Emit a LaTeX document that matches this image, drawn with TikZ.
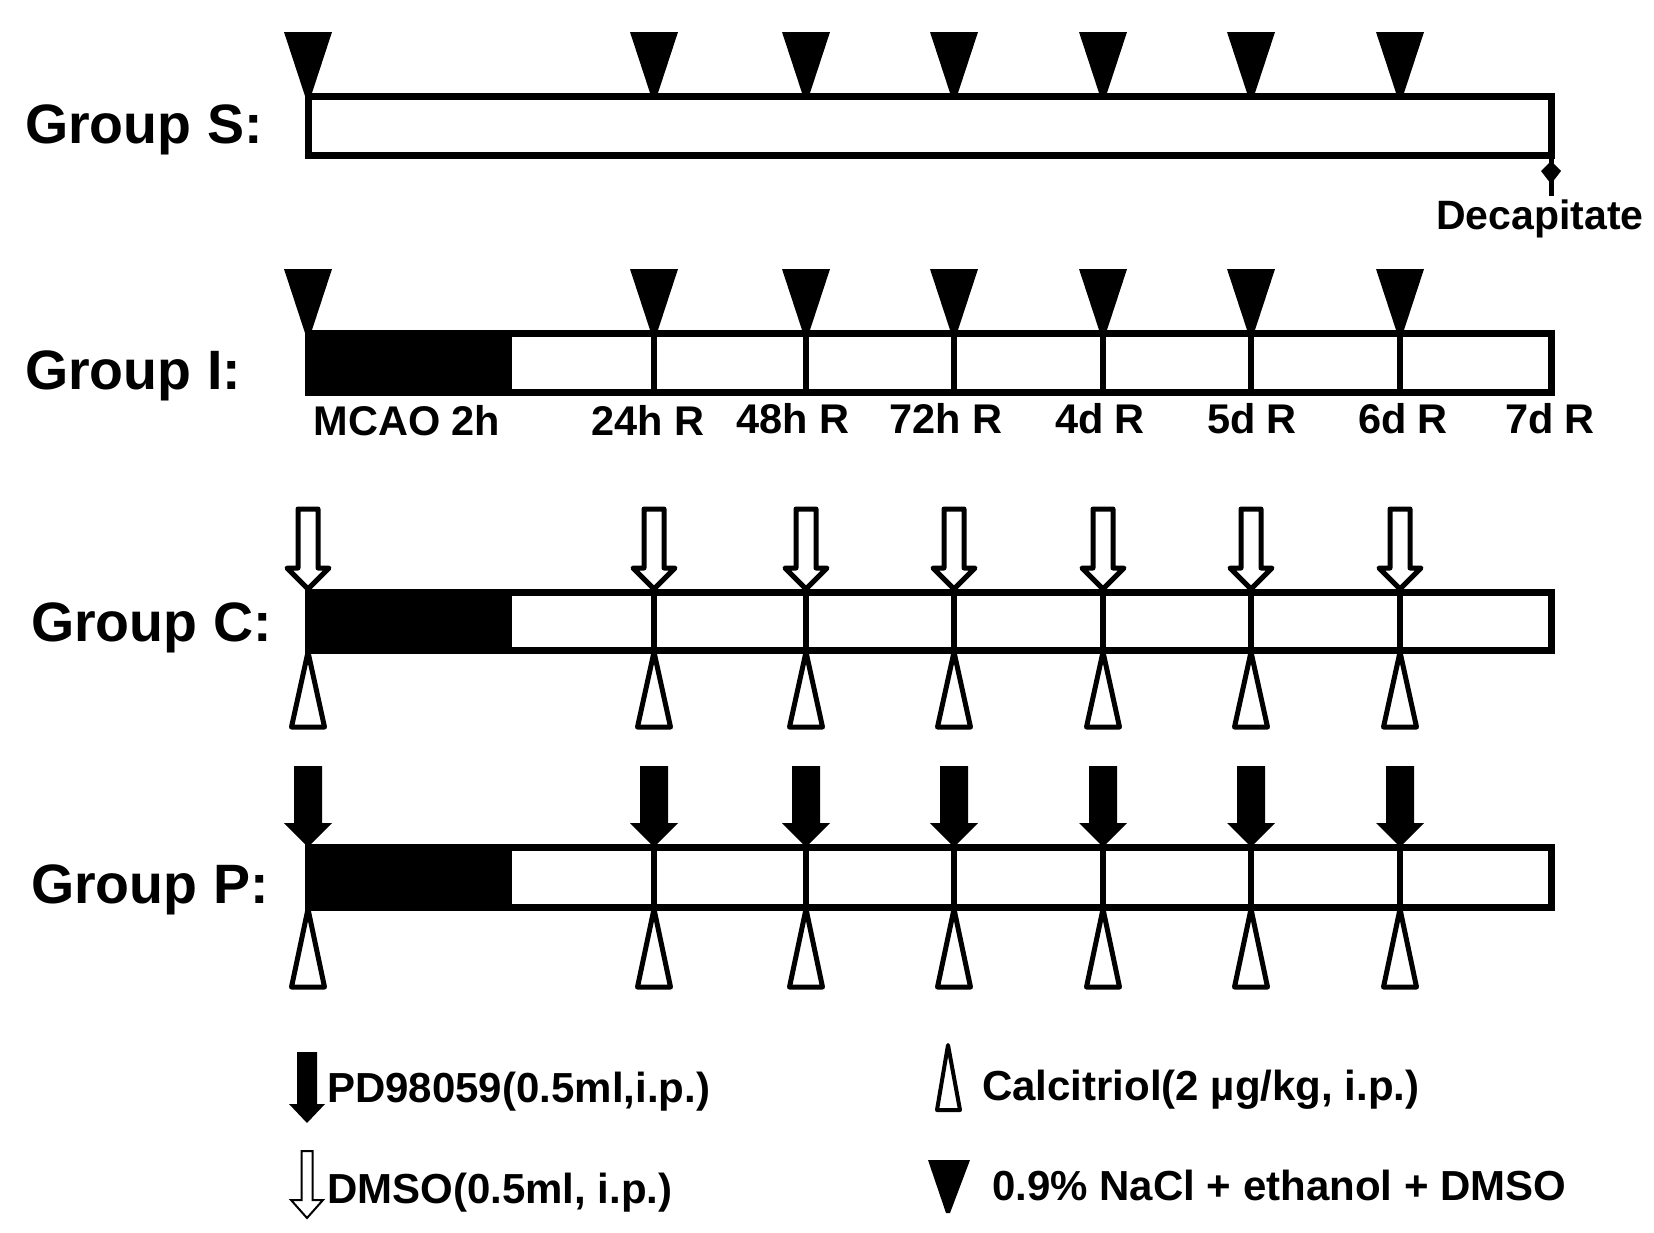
\documentclass[tikz,border=0pt]{standalone}
\usepackage{fontspec}
\setmainfont{Liberation Sans}
\begin{document}
\begin{tikzpicture}[x=1pt,y=-1pt,
  barline/.style={line width=7pt},
  tickline/.style={line width=6pt},
  grp/.style={font=\bfseries\fontsize{55.5}{60}\selectfont, inner sep=0pt, anchor=base west},
  tlbl/.style={font=\bfseries\fontsize{41.5}{44}\selectfont, inner sep=0pt, anchor=base},
  leg/.style={font=\bfseries\fontsize{42}{46}\selectfont, inner sep=0pt, anchor=base west},
  opentri/.style={line width=5pt, line join=round, fill=white},
  openarrow/.style={line width=5pt, line join=round, fill=white}]
\useasboundingbox (0,0) rectangle (1654,1232);

% ---------------- Group S ----------------
\node[grp] (gS) at (25,143) {Group S:};
\draw[barline] (308,96) rectangle (1551,155);
\foreach \x in {308,654,806,954,1103,1251,1400}
  \fill (\x-24,32) -- (\x+24,32) -- (\x+3,96) -- (\x-3,96) -- cycle;
\coordinate (sEnd) at (1551,155);
\node[tlbl, font=\bfseries\fontsize{41}{44}\selectfont] (dec) at (1540,229) {Decapitate};
\coordinate (decTop) at (1551,196);
\draw[line width=5pt] (sEnd) -- (decTop);
\fill (1551,161) -- (1561,171) -- (1551,184) -- (1541,171) -- cycle;

% ---------------- Group I ----------------
\node[grp] (gI) at (25,389) {Group I:};
\fill (308,333) rectangle (512,392);
\foreach \x in {654,806,954,1103,1251,1400}
  \draw[tickline] (\x,333) -- (\x,392);
\draw[barline] (308,333) rectangle (1551,392);
\foreach \x in {308,654,806,954,1103,1251,1400}
  \fill (\x-24,269) -- (\x+24,269) -- (\x+3,333) -- (\x-3,333) -- cycle;

\node[tlbl] (t0) at (407,435) {MCAO 2h};
\node[tlbl] (t1) at (648,435) {24h R};
\node[tlbl] (t2) at (793,433) {48h R};
\node[tlbl] (t3) at (946,433) {72h R};
\node[tlbl] (t4) at (1100,433) {4d R};
\node[tlbl] (t5) at (1252,433) {5d R};
\node[tlbl] (t6) at (1403,433) {6d R};
\node[tlbl] (t7) at (1550,433) {7d R};

% ---------------- Group C ----------------
\node[grp] (gC) at (31,641) {Group C:};
\fill (308,592) rectangle (512,650);
\foreach \x in {654,806,954,1103,1251,1400}
  \draw[tickline] (\x,592) -- (\x,650);
\draw[barline] (308,592) rectangle (1551,650);
\foreach \x in {308,654,806,954,1103,1251,1400}{
  \draw[openarrow] (\x-10,509) -- (\x+10,509) -- (\x+10,568) -- (\x+21,568)
     -- (\x,589) -- (\x-21,568) -- (\x-10,568) -- cycle;
  \draw[opentri] (\x,652) -- (\x+16.5,727) -- (\x-16.5,727) -- cycle;
}

% ---------------- Group P ----------------
\node[grp] (gP) at (31,903) {Group P:};
\fill (308,847) rectangle (512,907);
\foreach \x in {654,806,954,1103,1251,1400}
  \draw[tickline] (\x,847) -- (\x,907);
\draw[barline] (308,847) rectangle (1551,907);
\foreach \x in {308,654,806,954,1103,1251,1400}{
  \fill (\x-14,766) -- (\x+14,766) -- (\x+14,823) -- (\x+24,823)
     -- (\x,847) -- (\x-24,823) -- (\x-14,823) -- cycle;
  \draw[opentri] (\x,909) -- (\x+16.5,987) -- (\x-16.5,987) -- cycle;
}

% ---------------- Legend ----------------
\fill (297,1052) -- (317,1052) -- (317,1104) -- (325,1104) -- (307,1123)
   -- (289,1104) -- (297,1104) -- cycle;
\node[leg] (lPD) at (327,1102) {PD98059(0.5ml,i.p.)};

\draw[line width=2pt, fill=white, line join=miter]
   (301.5,1151) -- (312.5,1151) -- (312.5,1200) -- (323,1200) -- (307,1218)
   -- (291,1200) -- (301.5,1200) -- cycle;
\node[leg] (lDM) at (327,1203) {DMSO(0.5ml, i.p.)};

\draw[line width=4pt, line join=round, fill=white]
   (948,1045) -- (960,1110) -- (937,1110) -- cycle;
\node[leg] (lCa) at (982,1100) {Calcitriol(2 µg/kg, i.p.)};

\fill (928,1160) -- (970,1160) -- (950,1213) -- (946,1213) -- cycle;
\node[leg] (lNa) at (992,1200) {0.9\% NaCl + ethanol + DMSO};
\end{tikzpicture}
\end{document}
